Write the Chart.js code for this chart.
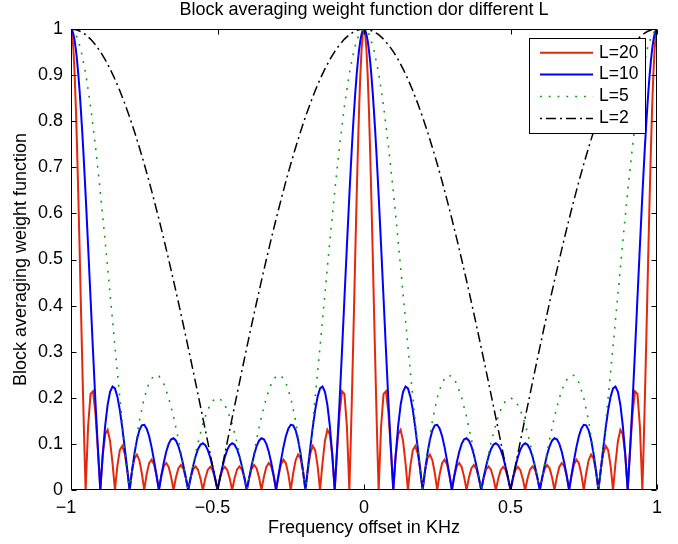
<!DOCTYPE html>
<html>
<head>
<meta charset="utf-8">
<script src="https://cdn.jsdelivr.net/npm/chart.js@4/dist/chart.umd.min.js"></script>
<style>html,body{margin:0;padding:0;background:#fff}canvas{display:block}</style>
</head>
<body>
<canvas id="c" width="678" height="544"></canvas>
<script>
// ---------- data ----------
const seriesLabels = ['L=20', 'L=10', 'L=5', 'L=2'];
const xTickLabels = ['\u22121', '\u22120.5', '0', '0.5', '1'];
const yTickLabels = ['0', '0.1', '0.2', '0.3', '0.4', '0.5', '0.6', '0.7', '0.8', '0.9', '1'];

// frequency samples (kHz) used by L=20 and L=10
const freqFine = [
-1, -0.9958, -0.9917, -0.9875, -0.9833, -0.9792, -0.975, -0.9708, -0.9667, -0.9625, -0.9583, -0.9542, -0.95,
-0.9417, -0.9333, -0.925, -0.9167, -0.9083, -0.9, -0.8917, -0.8833, -0.875, -0.8667, -0.8583, -0.85, -0.8417, -0.8333, -0.825, -0.8167, -0.8083, -0.8,
-0.7917, -0.7833, -0.775, -0.7667, -0.7583, -0.75, -0.7417, -0.7333, -0.725, -0.7167, -0.7083, -0.7, -0.6917, -0.6833, -0.675, -0.6667, -0.6583, -0.65,
-0.6417, -0.6333, -0.625, -0.6167, -0.6083, -0.6, -0.5917, -0.5833, -0.575, -0.5667, -0.5583, -0.55, -0.5417, -0.5333, -0.525, -0.5167, -0.5083, -0.5,
-0.4917, -0.4833, -0.475, -0.4667, -0.4583, -0.45, -0.4417, -0.4333, -0.425, -0.4167, -0.4083, -0.4, -0.3917, -0.3833, -0.375, -0.3667, -0.3583, -0.35,
-0.3417, -0.3333, -0.325, -0.3167, -0.3083, -0.3, -0.2917, -0.2833, -0.275, -0.2667, -0.2583, -0.25, -0.2417, -0.2333, -0.225, -0.2167, -0.2083, -0.2,
-0.1917, -0.1833, -0.175, -0.1667, -0.1583, -0.15, -0.1417, -0.1333, -0.125, -0.1167, -0.1083, -0.1, -0.0917, -0.0833, -0.075, -0.0667, -0.0583, -0.05,
-0.0458, -0.0417, -0.0375, -0.0333, -0.0292, -0.025, -0.0208, -0.0167, -0.0125, -0.0083, -0.0042, 0,
0.0042, 0.0083, 0.0125, 0.0167, 0.0208, 0.025, 0.0292, 0.0333, 0.0375, 0.0417, 0.0458, 0.05,
0.0583, 0.0667, 0.075, 0.0833, 0.0917, 0.1, 0.1083, 0.1167, 0.125, 0.1333, 0.1417, 0.15, 0.1583, 0.1667, 0.175, 0.1833, 0.1917, 0.2,
0.2083, 0.2167, 0.225, 0.2333, 0.2417, 0.25, 0.2583, 0.2667, 0.275, 0.2833, 0.2917, 0.3, 0.3083, 0.3167, 0.325, 0.3333, 0.3417, 0.35,
0.3583, 0.3667, 0.375, 0.3833, 0.3917, 0.4, 0.4083, 0.4167, 0.425, 0.4333, 0.4417, 0.45, 0.4583, 0.4667, 0.475, 0.4833, 0.4917, 0.5,
0.5083, 0.5167, 0.525, 0.5333, 0.5417, 0.55, 0.5583, 0.5667, 0.575, 0.5833, 0.5917, 0.6, 0.6083, 0.6167, 0.625, 0.6333, 0.6417, 0.65,
0.6583, 0.6667, 0.675, 0.6833, 0.6917, 0.7, 0.7083, 0.7167, 0.725, 0.7333, 0.7417, 0.75, 0.7583, 0.7667, 0.775, 0.7833, 0.7917, 0.8,
0.8083, 0.8167, 0.825, 0.8333, 0.8417, 0.85, 0.8583, 0.8667, 0.875, 0.8833, 0.8917, 0.9, 0.9083, 0.9167, 0.925, 0.9333, 0.9417, 0.95,
0.9542, 0.9583, 0.9625, 0.9667, 0.9708, 0.975, 0.9792, 0.9833, 0.9875, 0.9917, 0.9958, 1
];

const weightL20 = [
1, 0.9886, 0.9550, 0.9006, 0.8274, 0.7384, 0.6373, 0.5278, 0.4143, 0.3008, 0.1915, 0.0902, 0,
0.1372, 0.2083, 0.2142, 0.1673, 0.0880, 0, 0.0749, 0.1208, 0.1307, 0.1065, 0.0581, 0,
0.0524, 0.0866, 0.0957, 0.0795, 0.0441, 0, 0.0411, 0.0688, 0.0770, 0.0647, 0.0363, 0,
0.0345, 0.0583, 0.0658, 0.0557, 0.0315, 0, 0.0303, 0.0516, 0.0586, 0.05, 0.0285, 0,
0.0277, 0.0474, 0.0541, 0.0464, 0.0265, 0, 0.0261, 0.0448, 0.0514, 0.0443, 0.0254, 0,
0.0252, 0.0435, 0.0502, 0.0434, 0.0250, 0,
0.0250, 0.0434, 0.0502, 0.0435, 0.0252, 0, 0.0254, 0.0443, 0.0514, 0.0448, 0.0261, 0,
0.0265, 0.0464, 0.0541, 0.0474, 0.0277, 0, 0.0285, 0.05, 0.0586, 0.0516, 0.0303, 0,
0.0315, 0.0557, 0.0658, 0.0583, 0.0345, 0, 0.0363, 0.0647, 0.0770, 0.0688, 0.0411, 0,
0.0441, 0.0795, 0.0957, 0.0866, 0.0524, 0, 0.0581, 0.1065, 0.1307, 0.1208, 0.0749, 0,
0.0880, 0.1673, 0.2142, 0.2083, 0.1372, 0,
0.0902, 0.1915, 0.3008, 0.4143, 0.5278, 0.6373, 0.7384, 0.8274, 0.9006, 0.9550, 0.9886, 1,
0.9886, 0.9550, 0.9006, 0.8274, 0.7384, 0.6373, 0.5278, 0.4143, 0.3008, 0.1915, 0.0902, 0,
0.1372, 0.2083, 0.2142, 0.1673, 0.0880, 0, 0.0749, 0.1208, 0.1307, 0.1065, 0.0581, 0,
0.0524, 0.0866, 0.0957, 0.0795, 0.0441, 0, 0.0411, 0.0688, 0.0770, 0.0647, 0.0363, 0,
0.0345, 0.0583, 0.0658, 0.0557, 0.0315, 0, 0.0303, 0.0516, 0.0586, 0.05, 0.0285, 0,
0.0277, 0.0474, 0.0541, 0.0464, 0.0265, 0, 0.0261, 0.0448, 0.0514, 0.0443, 0.0254, 0,
0.0252, 0.0435, 0.0502, 0.0434, 0.0250, 0,
0.0250, 0.0434, 0.0502, 0.0435, 0.0252, 0, 0.0254, 0.0443, 0.0514, 0.0448, 0.0261, 0,
0.0265, 0.0464, 0.0541, 0.0474, 0.0277, 0, 0.0285, 0.05, 0.0586, 0.0516, 0.0303, 0,
0.0315, 0.0557, 0.0658, 0.0583, 0.0345, 0, 0.0363, 0.0647, 0.0770, 0.0688, 0.0411, 0,
0.0441, 0.0795, 0.0957, 0.0866, 0.0524, 0, 0.0581, 0.1065, 0.1307, 0.1208, 0.0749, 0,
0.0880, 0.1673, 0.2142, 0.2083, 0.1372, 0,
0.0902, 0.1915, 0.3008, 0.4143, 0.5278, 0.6373, 0.7384, 0.8274, 0.9006, 0.9550, 0.9886, 1
];

const weightL10 = [
1, 0.9972, 0.9887, 0.9748, 0.9554, 0.9308, 0.9012, 0.8670, 0.8285, 0.7860, 0.7400, 0.6909, 0.6392,
0.5300, 0.4165, 0.3029, 0.1932, 0.0911, 0,
0.0775, 0.1395, 0.1848, 0.2129, 0.2244, 0.2203, 0.2024, 0.1732, 0.1353, 0.0918, 0.0457, 0,
0.0425, 0.0795, 0.1089, 0.1294, 0.1403, 0.1414, 0.1332, 0.1165, 0.0930, 0.0643, 0.0326, 0,
0.0314, 0.0596, 0.0829, 0.1, 0.1099, 0.1122, 0.1070, 0.0948, 0.0765, 0.0536, 0.0275, 0,
0.0270, 0.0518, 0.0727, 0.0885, 0.0982, 0.1013, 0.0974, 0.0871, 0.0709, 0.0501, 0.0259, 0,
0.0259, 0.0501, 0.0709, 0.0871, 0.0974, 0.1013, 0.0982, 0.0885, 0.0727, 0.0518, 0.0270, 0,
0.0275, 0.0536, 0.0765, 0.0948, 0.1070, 0.1122, 0.1099, 0.1, 0.0829, 0.0596, 0.0314, 0,
0.0326, 0.0643, 0.0930, 0.1165, 0.1332, 0.1414, 0.1403, 0.1294, 0.1089, 0.0795, 0.0425, 0,
0.0457, 0.0918, 0.1353, 0.1732, 0.2024, 0.2203, 0.2244, 0.2129, 0.1848, 0.1395, 0.0775, 0,
0.0911, 0.1932, 0.3029, 0.4165, 0.5300, 0.6392, 0.6909, 0.7400, 0.7860, 0.8285, 0.8670, 0.9012, 0.9308, 0.9554, 0.9748, 0.9887, 0.9972, 1,
0.9972, 0.9887, 0.9748, 0.9554, 0.9308, 0.9012, 0.8670, 0.8285, 0.7860, 0.7400, 0.6909, 0.6392,
0.5300, 0.4165, 0.3029, 0.1932, 0.0911, 0,
0.0775, 0.1395, 0.1848, 0.2129, 0.2244, 0.2203, 0.2024, 0.1732, 0.1353, 0.0918, 0.0457, 0,
0.0425, 0.0795, 0.1089, 0.1294, 0.1403, 0.1414, 0.1332, 0.1165, 0.0930, 0.0643, 0.0326, 0,
0.0314, 0.0596, 0.0829, 0.1, 0.1099, 0.1122, 0.1070, 0.0948, 0.0765, 0.0536, 0.0275, 0,
0.0270, 0.0518, 0.0727, 0.0885, 0.0982, 0.1013, 0.0974, 0.0871, 0.0709, 0.0501, 0.0259, 0,
0.0259, 0.0501, 0.0709, 0.0871, 0.0974, 0.1013, 0.0982, 0.0885, 0.0727, 0.0518, 0.0270, 0,
0.0275, 0.0536, 0.0765, 0.0948, 0.1070, 0.1122, 0.1099, 0.1, 0.0829, 0.0596, 0.0314, 0,
0.0326, 0.0643, 0.0930, 0.1165, 0.1332, 0.1414, 0.1403, 0.1294, 0.1089, 0.0795, 0.0425, 0,
0.0457, 0.0918, 0.1353, 0.1732, 0.2024, 0.2203, 0.2244, 0.2129, 0.1848, 0.1395, 0.0775, 0,
0.0911, 0.1932, 0.3029, 0.4165, 0.5300, 0.6392, 0.6909, 0.7400, 0.7860, 0.8285, 0.8670, 0.9012, 0.9308, 0.9554, 0.9748, 0.9887, 0.9972, 1
];

// frequency samples (kHz) used by L=5 and L=2
const freqCoarse = [
-1, -0.9833, -0.9667, -0.95, -0.9333, -0.9167, -0.9, -0.8833, -0.8667, -0.85, -0.8333, -0.8167, -0.8, -0.7833, -0.7667, -0.75,
-0.7333, -0.7167, -0.7, -0.6833, -0.6667, -0.65, -0.6333, -0.6167, -0.6, -0.5833, -0.5667, -0.55, -0.5333, -0.5167, -0.5,
-0.4833, -0.4667, -0.45, -0.4333, -0.4167, -0.4, -0.3833, -0.3667, -0.35, -0.3333, -0.3167, -0.3, -0.2833, -0.2667, -0.25,
-0.2333, -0.2167, -0.2, -0.1833, -0.1667, -0.15, -0.1333, -0.1167, -0.1, -0.0833, -0.0667, -0.05, -0.0333, -0.0167, 0,
0.0167, 0.0333, 0.05, 0.0667, 0.0833, 0.1, 0.1167, 0.1333, 0.15, 0.1667, 0.1833, 0.2, 0.2167, 0.2333, 0.25,
0.2667, 0.2833, 0.3, 0.3167, 0.3333, 0.35, 0.3667, 0.3833, 0.4, 0.4167, 0.4333, 0.45, 0.4667, 0.4833, 0.5,
0.5167, 0.5333, 0.55, 0.5667, 0.5833, 0.6, 0.6167, 0.6333, 0.65, 0.6667, 0.6833, 0.7, 0.7167, 0.7333, 0.75,
0.7667, 0.7833, 0.8, 0.8167, 0.8333, 0.85, 0.8667, 0.8833, 0.9, 0.9167, 0.9333, 0.95, 0.9667, 0.9833, 1
];

const weightL5 = [
1, 0.9891, 0.9567, 0.9040, 0.8331, 0.7464, 0.6472, 0.5391, 0.4258, 0.3115, 0.2, 0.0950, 0, 0.0823, 0.1495, 0.2,
0.2331, 0.2486, 0.2472, 0.2304, 0.2, 0.1587, 0.1095, 0.0555, 0, 0.0536, 0.1022, 0.1432, 0.1742, 0.1935, 0.2,
0.1935, 0.1742, 0.1432, 0.1022, 0.0536, 0, 0.0555, 0.1095, 0.1587, 0.2, 0.2304, 0.2472, 0.2486, 0.2331, 0.2,
0.1495, 0.0823, 0, 0.0950, 0.2, 0.3115, 0.4258, 0.5391, 0.6472, 0.7464, 0.8331, 0.9040, 0.9567, 0.9891, 1,
0.9891, 0.9567, 0.9040, 0.8331, 0.7464, 0.6472, 0.5391, 0.4258, 0.3115, 0.2, 0.0950, 0, 0.0823, 0.1495, 0.2,
0.2331, 0.2486, 0.2472, 0.2304, 0.2, 0.1587, 0.1095, 0.0555, 0, 0.0536, 0.1022, 0.1432, 0.1742, 0.1935, 0.2,
0.1935, 0.1742, 0.1432, 0.1022, 0.0536, 0, 0.0555, 0.1095, 0.1587, 0.2, 0.2304, 0.2472, 0.2486, 0.2331, 0.2,
0.1495, 0.0823, 0, 0.0950, 0.2, 0.3115, 0.4258, 0.5391, 0.6472, 0.7464, 0.8331, 0.9040, 0.9567, 0.9891, 1
];

const weightL2 = [
1, 0.9986, 0.9945, 0.9877, 0.9781, 0.9659, 0.9511, 0.9336, 0.9135, 0.8910, 0.8660, 0.8387, 0.8090, 0.7771, 0.7431, 0.7071,
0.6691, 0.6293, 0.5878, 0.5446, 0.5, 0.4540, 0.4067, 0.3584, 0.3090, 0.2588, 0.2079, 0.1564, 0.1045, 0.0523, 0,
0.0523, 0.1045, 0.1564, 0.2079, 0.2588, 0.3090, 0.3584, 0.4067, 0.4540, 0.5, 0.5446, 0.5878, 0.6293, 0.6691, 0.7071,
0.7431, 0.7771, 0.8090, 0.8387, 0.8660, 0.8910, 0.9135, 0.9336, 0.9511, 0.9659, 0.9781, 0.9877, 0.9945, 0.9986, 1,
0.9986, 0.9945, 0.9877, 0.9781, 0.9659, 0.9511, 0.9336, 0.9135, 0.8910, 0.8660, 0.8387, 0.8090, 0.7771, 0.7431, 0.7071,
0.6691, 0.6293, 0.5878, 0.5446, 0.5, 0.4540, 0.4067, 0.3584, 0.3090, 0.2588, 0.2079, 0.1564, 0.1045, 0.0523, 0,
0.0523, 0.1045, 0.1564, 0.2079, 0.2588, 0.3090, 0.3584, 0.4067, 0.4540, 0.5, 0.5446, 0.5878, 0.6293, 0.6691, 0.7071,
0.7431, 0.7771, 0.8090, 0.8387, 0.8660, 0.8910, 0.9135, 0.9336, 0.9511, 0.9659, 0.9781, 0.9877, 0.9945, 0.9986, 1
];

// ---------- chart ----------
const FONT = '"Liberation Sans", Arial, Helvetica, sans-serif';
Chart.defaults.font.family = FONT;
Chart.defaults.color = '#000';

const toPoints = (xs, ys) => xs.map((x, i) => ({ x: x, y: ys[i] }));

// Box around the axes with inward tick marks on all four sides
const axesBox = {
  id: 'axesBox',
  afterDatasetsDraw(chart) {
    const { ctx, chartArea: a, scales } = chart;
    const L = Math.round(a.left) + 0.5, R = Math.round(a.right) - 0.5;
    const T = Math.round(a.top) + 0.5, B = Math.round(a.bottom) - 0.5;
    const tl = 5;
    ctx.save();
    ctx.strokeStyle = '#000';
    ctx.lineWidth = 1;
    ctx.setLineDash([]);
    ctx.beginPath();
    ctx.rect(L, T, R - L, B - T);
    scales.x.ticks.forEach(t => {
      const px = Math.round(scales.x.getPixelForValue(t.value)) + 0.5;
      ctx.moveTo(px, B); ctx.lineTo(px, B - tl);
      ctx.moveTo(px, T); ctx.lineTo(px, T + tl);
    });
    scales.y.ticks.forEach(t => {
      const py = Math.round(scales.y.getPixelForValue(t.value)) + 0.5;
      ctx.moveTo(L, py); ctx.lineTo(L + tl, py);
      ctx.moveTo(R, py); ctx.lineTo(R - tl, py);
    });
    ctx.stroke();
    ctx.restore();
  }
};

// Boxed legend in the upper right corner of the axes
const boxLegend = {
  id: 'boxLegend',
  afterDatasetsDraw(chart) {
    const { ctx, chartArea: a } = chart;
    const w = 116, h = 95;
    const left = Math.round(a.right) - 128, top = Math.round(a.top) + 9;
    ctx.save();
    ctx.fillStyle = '#fff';
    ctx.fillRect(left, top, w, h);
    ctx.strokeStyle = '#000';
    ctx.lineWidth = 1;
    ctx.setLineDash([]);
    ctx.strokeRect(left + 0.5, top + 0.5, w, h);
    chart.data.datasets.forEach((ds, i) => {
      const yy = top + 14.7 + i * 21.9;
      ctx.save();
      ctx.strokeStyle = ds.borderColor;
      ctx.lineWidth = ds.borderWidth;
      ctx.setLineDash(ds.borderDash || []);
      ctx.lineDashOffset = ds.legendDashOffset || 0;
      ctx.beginPath();
      ctx.moveTo(left + 11, yy);
      ctx.lineTo(left + 64, yy);
      ctx.stroke();
      ctx.restore();
      ctx.fillStyle = '#000';
      ctx.font = '17.5px ' + FONT;
      ctx.textBaseline = 'middle';
      ctx.textAlign = 'left';
      ctx.fillText(ds.label, left + 70, yy);
    });
    ctx.restore();
  }
};

new Chart(document.getElementById('c'), {
  type: 'line',
  data: {
    datasets: [
      { label: seriesLabels[0], data: toPoints(freqFine, weightL20), borderColor: 'rgb(228,40,12)', borderWidth: 2, order: 4 },
      { label: seriesLabels[1], data: toPoints(freqFine, weightL10), borderColor: 'rgb(0,0,255)', borderWidth: 2, order: 3 },
      { label: seriesLabels[2], data: toPoints(freqCoarse, weightL5), borderColor: 'rgb(0,160,0)', borderWidth: 1.6, borderDash: [1.8, 7], order: 2 },
      { label: seriesLabels[3], data: toPoints(freqCoarse, weightL2), borderColor: '#000', borderWidth: 1.5, borderDash: [10, 4, 2, 4], legendDashOffset: 14, order: 1 }
    ]
  },
  options: {
    responsive: false,
    animation: false,
    devicePixelRatio: 1,
    layout: { padding: { left: 0, right: 21, top: 0, bottom: 0 } },
    elements: { point: { radius: 0, hoverRadius: 0 }, line: { tension: 0, fill: false } },
    plugins: {
      legend: { display: false },
      tooltip: { enabled: false },
      title: {
        display: true,
        fullSize: false,
        text: 'Block averaging weight function dor different L',
        color: '#000',
        font: { family: FONT, size: 18, weight: 'normal', lineHeight: 1.1 },
        padding: { top: 0, bottom: 9.2 }
      }
    },
    scales: {
      x: {
        type: 'linear',
        min: -1, max: 1,
        grid: { display: false, drawTicks: false },
        border: { display: false },
        ticks: {
          stepSize: 0.5, autoSkip: false, maxRotation: 0, padding: 7,
          color: '#000', font: { family: FONT, size: 18 },
          callback: (v, i) => (v < 0 ? xTickLabels[i] + '  ' : xTickLabels[i])
        },
        title: {
          display: true, text: 'Frequency offset in KHz', color: '#000',
          font: { family: FONT, size: 18 }, padding: { top: 0, bottom: 5 }
        },
        afterFit(s) { s.height = 54; }
      },
      y: {
        type: 'linear',
        min: 0, max: 1,
        grid: { display: false, drawTicks: false },
        border: { display: false },
        ticks: {
          stepSize: 0.1, autoSkip: false, padding: 8,
          color: '#000', font: { family: FONT, size: 18 },
          callback: (v, i) => yTickLabels[i]
        },
        title: {
          display: true, text: 'Block averaging weight function', color: '#000',
          font: { family: FONT, size: 18 }, padding: { top: 10, bottom: 0 }
        },
        afterFit(s) { s.width = 71; }
      }
    }
  },
  plugins: [axesBox, boxLegend]
});
</script>
</body>
</html>
